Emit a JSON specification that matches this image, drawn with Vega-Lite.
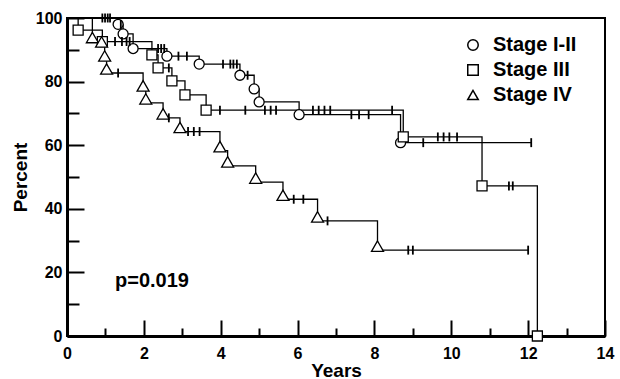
{
  "$schema": "https://vega.github.io/schema/vega-lite/v6.json",
  "autosize": {"type": "none"},
  "padding": {"left": 67, "top": 18, "right": 15, "bottom": 43},
  "width": 538,
  "height": 318,
  "background": "white",
  "config": {
    "view": {"stroke": "black", "strokeWidth": 2},
    "axis": {
      "grid": false, "domainColor": "black", "domainWidth": 3,
      "tickColor": "black", "tickWidth": 2,
      "labelFont": "Liberation Sans", "labelFontWeight": "bold", "labelFontSize": 16, "labelColor": "black",
      "titleFont": "Liberation Sans", "titleFontWeight": "bold", "titleFontSize": 19, "titleColor": "black"
    },
    "legend": {
      "labelFont": "Liberation Sans", "labelFontWeight": "bold", "labelFontSize": 20, "labelColor": "black"
    }
  },
  "datasets": {
    "km": [
      {"stage": "Stage I-II", "t": 0, "s": 100, "type": "start"},
      {"stage": "Stage I-II", "t": 0.92, "s": 100, "type": "censor"},
      {"stage": "Stage I-II", "t": 0.99, "s": 100, "type": "censor"},
      {"stage": "Stage I-II", "t": 1.06, "s": 100, "type": "censor"},
      {"stage": "Stage I-II", "t": 1.12, "s": 100, "type": "censor"},
      {"stage": "Stage I-II", "t": 1.33, "s": 98, "type": "event"},
      {"stage": "Stage I-II", "t": 1.4, "s": 98, "type": "censor"},
      {"stage": "Stage I-II", "t": 1.46, "s": 95, "type": "event"},
      {"stage": "Stage I-II", "t": 1.72, "s": 90.4, "type": "event"},
      {"stage": "Stage I-II", "t": 2.37, "s": 90.4, "type": "censor"},
      {"stage": "Stage I-II", "t": 2.45, "s": 90.4, "type": "censor"},
      {"stage": "Stage I-II", "t": 2.53, "s": 90.4, "type": "censor"},
      {"stage": "Stage I-II", "t": 2.6, "s": 88, "type": "event"},
      {"stage": "Stage I-II", "t": 2.9, "s": 88, "type": "censor"},
      {"stage": "Stage I-II", "t": 3.12, "s": 88, "type": "censor"},
      {"stage": "Stage I-II", "t": 3.44, "s": 85.5, "type": "event"},
      {"stage": "Stage I-II", "t": 4.06, "s": 85.5, "type": "censor"},
      {"stage": "Stage I-II", "t": 4.25, "s": 85.5, "type": "censor"},
      {"stage": "Stage I-II", "t": 4.33, "s": 85.5, "type": "censor"},
      {"stage": "Stage I-II", "t": 4.42, "s": 85.5, "type": "censor"},
      {"stage": "Stage I-II", "t": 4.5, "s": 82, "type": "event"},
      {"stage": "Stage I-II", "t": 4.7, "s": 82, "type": "censor"},
      {"stage": "Stage I-II", "t": 4.87, "s": 77.7, "type": "event"},
      {"stage": "Stage I-II", "t": 5.0, "s": 73.6, "type": "event"},
      {"stage": "Stage I-II", "t": 6.04, "s": 69.6, "type": "event"},
      {"stage": "Stage I-II", "t": 7.4, "s": 69.6, "type": "censor"},
      {"stage": "Stage I-II", "t": 7.6, "s": 69.6, "type": "censor"},
      {"stage": "Stage I-II", "t": 7.85, "s": 69.6, "type": "censor"},
      {"stage": "Stage I-II", "t": 8.68, "s": 60.8, "type": "event"},
      {"stage": "Stage I-II", "t": 9.27, "s": 60.8, "type": "censor"},
      {"stage": "Stage I-II", "t": 12.08, "s": 60.8, "type": "censor"},

      {"stage": "Stage III", "t": 0, "s": 100, "type": "start"},
      {"stage": "Stage III", "t": 0.29, "s": 96.2, "type": "event"},
      {"stage": "Stage III", "t": 0.92, "s": 92.6, "type": "event"},
      {"stage": "Stage III", "t": 1.25, "s": 92.6, "type": "censor"},
      {"stage": "Stage III", "t": 1.43, "s": 92.6, "type": "censor"},
      {"stage": "Stage III", "t": 1.55, "s": 92.6, "type": "censor"},
      {"stage": "Stage III", "t": 1.63, "s": 92.6, "type": "censor"},
      {"stage": "Stage III", "t": 2.21, "s": 88.4, "type": "event"},
      {"stage": "Stage III", "t": 2.37, "s": 84.3, "type": "event"},
      {"stage": "Stage III", "t": 2.65, "s": 84.3, "type": "censor"},
      {"stage": "Stage III", "t": 2.73, "s": 80.2, "type": "event"},
      {"stage": "Stage III", "t": 3.07, "s": 75.8, "type": "event"},
      {"stage": "Stage III", "t": 3.62, "s": 71, "type": "event"},
      {"stage": "Stage III", "t": 3.98, "s": 71, "type": "censor"},
      {"stage": "Stage III", "t": 4.64, "s": 71, "type": "censor"},
      {"stage": "Stage III", "t": 5.15, "s": 71, "type": "censor"},
      {"stage": "Stage III", "t": 5.3, "s": 71, "type": "censor"},
      {"stage": "Stage III", "t": 5.44, "s": 71, "type": "censor"},
      {"stage": "Stage III", "t": 6.4, "s": 71, "type": "censor"},
      {"stage": "Stage III", "t": 6.55, "s": 71, "type": "censor"},
      {"stage": "Stage III", "t": 6.7, "s": 71, "type": "censor"},
      {"stage": "Stage III", "t": 6.85, "s": 71, "type": "censor"},
      {"stage": "Stage III", "t": 8.46, "s": 71, "type": "censor"},
      {"stage": "Stage III", "t": 8.75, "s": 62.6, "type": "event"},
      {"stage": "Stage III", "t": 9.65, "s": 62.6, "type": "censor"},
      {"stage": "Stage III", "t": 9.8, "s": 62.6, "type": "censor"},
      {"stage": "Stage III", "t": 9.95, "s": 62.6, "type": "censor"},
      {"stage": "Stage III", "t": 10.15, "s": 62.6, "type": "censor"},
      {"stage": "Stage III", "t": 10.8, "s": 47.2, "type": "event"},
      {"stage": "Stage III", "t": 11.5, "s": 47.2, "type": "censor"},
      {"stage": "Stage III", "t": 11.6, "s": 47.2, "type": "censor"},
      {"stage": "Stage III", "t": 12.24, "s": 0, "type": "event"},

      {"stage": "Stage IV", "t": 0, "s": 100, "type": "start"},
      {"stage": "Stage IV", "t": 0.66, "s": 92.6, "type": "event"},
      {"stage": "Stage IV", "t": 0.9, "s": 91.2, "type": "event"},
      {"stage": "Stage IV", "t": 0.98, "s": 86.8, "type": "event"},
      {"stage": "Stage IV", "t": 1.03, "s": 82.7, "type": "event"},
      {"stage": "Stage IV", "t": 1.33, "s": 82.7, "type": "censor"},
      {"stage": "Stage IV", "t": 1.98, "s": 77.4, "type": "event"},
      {"stage": "Stage IV", "t": 2.05, "s": 73.3, "type": "event"},
      {"stage": "Stage IV", "t": 2.5, "s": 68.6, "type": "event"},
      {"stage": "Stage IV", "t": 2.65, "s": 68.6, "type": "censor"},
      {"stage": "Stage IV", "t": 2.94, "s": 64.3, "type": "event"},
      {"stage": "Stage IV", "t": 3.15, "s": 64.3, "type": "censor"},
      {"stage": "Stage IV", "t": 3.3, "s": 64.3, "type": "censor"},
      {"stage": "Stage IV", "t": 3.45, "s": 64.3, "type": "censor"},
      {"stage": "Stage IV", "t": 3.98, "s": 58.3, "type": "event"},
      {"stage": "Stage IV", "t": 4.18, "s": 53.5, "type": "event"},
      {"stage": "Stage IV", "t": 4.91, "s": 48.4, "type": "event"},
      {"stage": "Stage IV", "t": 5.62, "s": 43, "type": "event"},
      {"stage": "Stage IV", "t": 5.9, "s": 43, "type": "censor"},
      {"stage": "Stage IV", "t": 6.15, "s": 43, "type": "censor"},
      {"stage": "Stage IV", "t": 6.52, "s": 36.2, "type": "event"},
      {"stage": "Stage IV", "t": 6.78, "s": 36.2, "type": "censor"},
      {"stage": "Stage IV", "t": 8.08, "s": 27, "type": "event"},
      {"stage": "Stage IV", "t": 8.88, "s": 27, "type": "censor"},
      {"stage": "Stage IV", "t": 9.0, "s": 27, "type": "censor"},
      {"stage": "Stage IV", "t": 12.0, "s": 27, "type": "censor"}
    ]
  },
  "resolve": {"axis": {"x": "independent", "y": "independent"}},
  "layer": [
    {
      "data": {"name": "km"},
      "mark": {"type": "line", "interpolate": "step-after", "color": "black", "strokeWidth": 1.3},
      "encoding": {
        "x": {"field": "t", "type": "quantitative", "scale": {"domain": [0, 14], "nice": false},
          "axis": {"orient": "bottom", "values": [0, 2, 4, 6, 8, 10, 12, 14], "tickSize": -16, "labelPadding": 25, "title": "Years", "titleY": 40, "titleBaseline": "alphabetic", "labelFlush": false}},
        "y": {"field": "s", "type": "quantitative", "scale": {"domain": [0, 100], "nice": false},
          "axis": {"orient": "left", "values": [0, 20, 40, 60, 80, 100], "tickSize": -17, "labelPadding": 22, "title": "Percent", "titleX": -41, "titleBaseline": "alphabetic"}},
        "detail": {"field": "stage"}
      }
    },
    {
      "data": {"name": "km"},
      "transform": [{"filter": "datum.type === 'event' && datum.stage !== 'Stage IV'"}],
      "mark": {"type": "point", "filled": true, "fill": "white", "stroke": "black", "strokeWidth": 1.3, "opacity": 1, "size": 100},
      "encoding": {
        "x": {"field": "t", "type": "quantitative",
          "axis": {"orient": "bottom", "values": [1, 3, 5, 7, 9, 11, 13], "tickSize": -8, "labels": false, "domain": false, "title": null}},
        "y": {"field": "s", "type": "quantitative",
          "axis": {"orient": "left", "values": [10, 30, 50, 70, 90], "tickSize": -12, "labels": false, "domain": false, "title": null}},
        "shape": {"field": "stage", "type": "nominal",
          "scale": {"domain": ["Stage I-II", "Stage III", "Stage IV"], "range": ["circle", "square", "triangle-up"]},
          "legend": {"title": null, "orient": "none", "legendX": 396, "legendY": 17, "padding": 0, "symbolSize": 110, "labelOffset": 10, "rowPadding": 5,
            "encode": {"symbols": {"update": {"stroke": {"value": "black"}, "strokeWidth": {"value": 1.3}, "fill": {"value": "white"}, "opacity": {"value": 1}}}}}}
      }
    },
    {
      "data": {"name": "km"},
      "transform": [{"filter": "datum.type === 'event' && datum.stage === 'Stage IV'"}],
      "mark": {"type": "point", "filled": true, "fill": "white", "stroke": "black", "strokeWidth": 1.3, "opacity": 1, "size": 144, "yOffset": -4},
      "encoding": {
        "x": {"field": "t", "type": "quantitative", "axis": null},
        "y": {"field": "s", "type": "quantitative", "axis": null},
        "shape": {"field": "stage", "type": "nominal"}
      }
    },
    {
      "data": {"name": "km"},
      "transform": [{"filter": "datum.type === 'censor'"}],
      "mark": {"type": "point", "shape": "M0,-1L0,1", "size": 80, "filled": false, "stroke": "black", "strokeWidth": 1.8, "opacity": 1},
      "encoding": {
        "x": {"field": "t", "type": "quantitative", "axis": null},
        "y": {"field": "s", "type": "quantitative", "axis": null}
      }
    },
    {
      "data": {"values": [{"t": 1.25, "s": 15.5, "label": "p=0.019"}]},
      "mark": {"type": "text", "align": "left", "baseline": "alphabetic", "font": "Liberation Sans", "fontWeight": "bold", "fontSize": 20, "color": "black"},
      "encoding": {
        "x": {"field": "t", "type": "quantitative", "axis": null},
        "y": {"field": "s", "type": "quantitative", "axis": null},
        "text": {"field": "label"}
      }
    }
  ]
}
